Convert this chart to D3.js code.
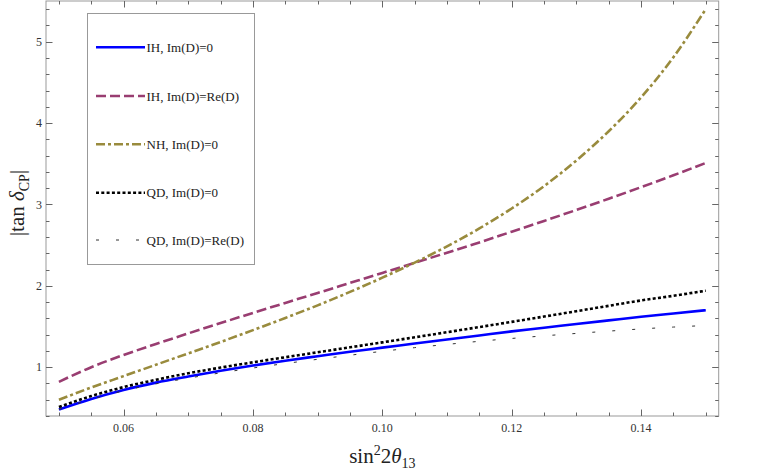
<!DOCTYPE html>
<html><head><meta charset="utf-8">
<script src="https://cdn.jsdelivr.net/npm/d3@7"></script>
<style>body{margin:0;background:#fff}svg{display:block}</style>
</head><body>
<svg id="c" width="763" height="474"></svg>
<script>
const xValues = [0.05,0.055,0.06,0.065,0.07,0.075,0.08,0.085,0.09,0.095,0.10,0.105,0.11,0.115,0.12,0.125,0.13,0.135,0.14,0.145,0.15];
const ihIm0    = [0.48,0.61,0.72,0.81,0.885,0.955,1.02,1.08,1.135,1.19,1.24,1.29,1.34,1.39,1.44,1.485,1.53,1.575,1.62,1.66,1.70];
const ihImRe   = [0.82,1.00,1.15,1.285,1.415,1.542,1.667,1.79,1.912,2.035,2.158,2.282,2.407,2.533,2.665,2.797,2.932,3.07,3.212,3.358,3.51];
const nhIm0    = [0.60,0.75,0.89,1.03,1.17,1.31,1.455,1.605,1.76,1.925,2.10,2.285,2.485,2.705,2.95,3.225,3.54,3.90,4.315,4.81,5.40];
const qdIm0    = [0.51,0.645,0.755,0.845,0.925,0.995,1.06,1.122,1.183,1.244,1.305,1.367,1.43,1.493,1.557,1.622,1.688,1.754,1.82,1.877,1.94];
const qdImRe   = [0.48,0.605,0.71,0.795,0.865,0.93,0.99,1.045,1.097,1.147,1.195,1.24,1.28,1.318,1.353,1.385,1.415,1.443,1.47,1.493,1.512];
const seriesNames = ["IH, Im(D)=0","IH, Im(D)=Re(D)","NH, Im(D)=0","QD, Im(D)=0","QD, Im(D)=Re(D)"];
const xMajorTicks = [0.06,0.08,0.10,0.12,0.14];
const xTickLabels = ["0.06","0.08","0.10","0.12","0.14"];
const yMajorTicks = [1,2,3,4,5];
const yTickLabels = ["1","2","3","4","5"];

const styles = [
  {color:"#0000ff", width:2.6, dash:null},
  {color:"#993d71", width:2.6, dash:"10,4"},
  {color:"#998b3d", width:2.6, dash:"9,3,3,3"},
  {color:"#000000", width:2.6, dash:"3,2.3"},
  {color:"#333333", width:1, dash:"3,17"}
];
const allSeries = [ihIm0, ihImRe, nhIm0, qdIm0, qdImRe];

const svg = d3.select("#c");
const L = 46, R = 718.7, T = 1, B = 416;
const x = d3.scaleLinear().domain([0.048,0.152]).range([L,R]);
const y = d3.scaleLinear().domain([0.40,5.50]).range([B,T]);
const font = "'Liberation Serif','Times New Roman',serif";

// frame
svg.append("rect").attr("x",L).attr("y",T).attr("width",R-L).attr("height",B-T)
  .attr("fill","none").attr("stroke","#999").attr("stroke-width",1);

// ticks
const xMinor = d3.range(0.05,0.1501,0.005).map(v=>+v.toFixed(3));
const yMinor = d3.range(0.4,5.45,0.2).map(v=>+v.toFixed(2));
const isMajX = v => xMajorTicks.some(m=>Math.abs(m-v)<1e-6);
const isMajY = v => yMajorTicks.some(m=>Math.abs(m-v)<1e-6);
const tg = svg.append("g").attr("stroke","#666").attr("stroke-width",1);
xMinor.forEach(v=>{
  const len = isMajX(v)?6.5:3.5, px = Math.round(x(v))+0.5;
  tg.append("line").attr("x1",px).attr("x2",px).attr("y1",B).attr("y2",B-len);
  tg.append("line").attr("x1",px).attr("x2",px).attr("y1",T).attr("y2",T+len);
});
yMinor.forEach(v=>{
  const len = isMajY(v)?6.5:3.5, py = Math.round(y(v))+0.5;
  tg.append("line").attr("y1",py).attr("y2",py).attr("x1",L).attr("x2",L+len);
  tg.append("line").attr("y1",py).attr("y2",py).attr("x1",R).attr("x2",R-len);
});
// tick labels
xMajorTicks.forEach((v,i)=>{
  svg.append("text").attr("x",x(v)).attr("y",432).attr("text-anchor","middle")
    .attr("font-family",font).attr("font-size",12).attr("fill","#333").text(xTickLabels[i]);
});
yMajorTicks.forEach((v,i)=>{
  svg.append("text").attr("x",42).attr("y",y(v)).attr("dy","0.35em").attr("text-anchor","end")
    .attr("font-family",font).attr("font-size",12).attr("fill","#333").text(yTickLabels[i]);
});

// curves
const line = d3.line().x((d,i)=>x(xValues[i])).y(d=>y(d)).curve(d3.curveMonotoneX);
const plot = svg.append("g");
allSeries.forEach((s,k)=>{
  const p = plot.append("path").attr("d",line(s)).attr("fill","none")
    .attr("stroke",styles[k].color).attr("stroke-width",styles[k].width);
  if(styles[k].dash) p.attr("stroke-dasharray",styles[k].dash);
});

// legend
svg.append("rect").attr("x",87.5).attr("y",13.5).attr("width",167).attr("height",251)
  .attr("fill","#fff").attr("stroke","#999").attr("stroke-width",1);
const legY = [47.3,96,144.3,192.7,240];
seriesNames.forEach((n,k)=>{
  const l = svg.append("line").attr("x1",96).attr("x2",145).attr("y1",legY[k]).attr("y2",legY[k])
    .attr("stroke",styles[k].color).attr("stroke-width",styles[k].width);
  if(styles[k].dash) l.attr("stroke-dasharray",styles[k].dash);
  svg.append("text").attr("x",146.5).attr("y",legY[k]).attr("dy","0.35em")
    .attr("font-family",font).attr("font-size",13).attr("fill","#222").text(n);
});

// axis titles
const xt = svg.append("text").attr("x",(L+R)/2).attr("y",463).attr("text-anchor","middle")
  .attr("font-family",font).attr("font-size",21).attr("fill","#222");
xt.append("tspan").text("sin");
xt.append("tspan").attr("font-size",14).attr("dy",-8).text("2");
xt.append("tspan").attr("dy",8).text("2");
xt.append("tspan").attr("font-style","italic").text("θ");
xt.append("tspan").attr("font-size",14).attr("dy",5).text("13");

const yt = svg.append("text").attr("transform","translate(24,203) rotate(-90)").attr("text-anchor","middle")
  .attr("font-family",font).attr("font-size",21).attr("fill","#222");
yt.append("tspan").text("|tan ");
yt.append("tspan").attr("font-style","italic").text("δ");
yt.append("tspan").attr("font-size",14).attr("dy",5).text("CP");
yt.append("tspan").attr("dy",-5).text("|");
</script>
</body></html>
